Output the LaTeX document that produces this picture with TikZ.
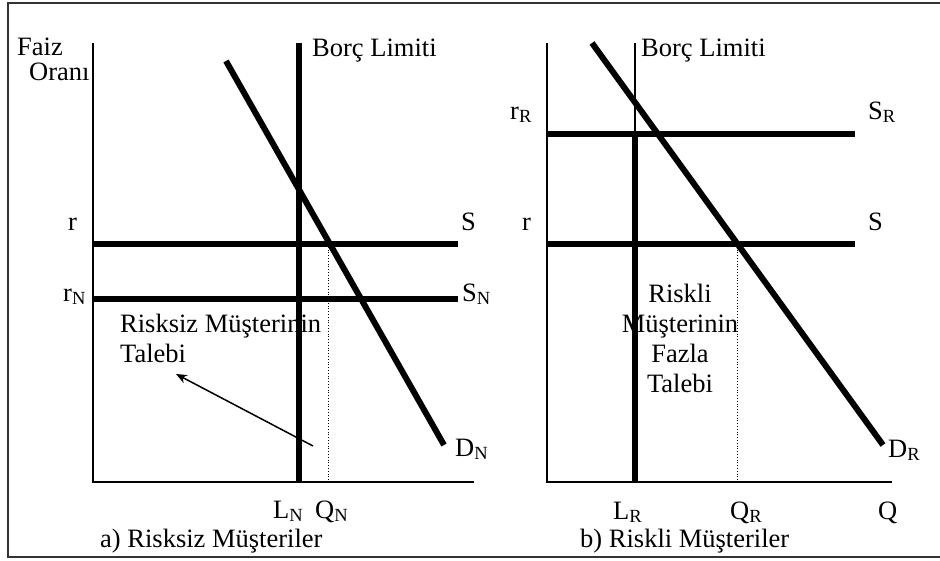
\documentclass[tikz,border=0pt]{standalone}
\usepackage{fontspec}
\setmainfont{Liberation Serif}
\usepackage{tikz}
\usetikzlibrary{arrows.meta}

\begin{document}
\begin{tikzpicture}[x=1pt,y=-1pt,
  axis/.style={line width=2pt},
  curve/.style={line width=6pt},
  guide/.style={dotted,line width=0.8pt},
  lbl/.style={anchor=base west,inner sep=0pt},
  every node/.style={font=\fontsize{26.5}{30}\selectfont}
]
\useasboundingbox (0,0) rectangle (940,560);
\draw[line width=1.5pt,black!80] (940,3) -| (8,557) -- (940,557);

% a) Risksiz
\coordinate (oa) at (93,482);
\coordinate (ya) at (93,43);
\coordinate (xa) at (474,482);
\draw[axis] (ya) -- (oa) -- (xa);
\coordinate (la) at (299,43);
\coordinate (lb) at (299,482);
\draw[curve] (la) -- (lb);
\coordinate (ra) at (93,244);
\coordinate (rb) at (458,244);
\draw[curve] (ra) -- (rb);
\coordinate (na) at (93,299);
\coordinate (nb) at (458,299);
\draw[curve] (na) -- (nb);
\coordinate (da) at (226,61);
\coordinate (db) at (444,445);
\draw[curve] (da) -- (db);
\coordinate (qa) at (328,244);
\coordinate (qb) at (328,482);
\draw[guide] (qa) -- (qb);

\node[lbl] (faiz) at (17,55) {Faiz};
\node[lbl] (oran) at (29,80) {Oranı};
\node[lbl] (borcA) at (312,56) {Borç Limiti};
\node[lbl] (rA) at (68,230) {r};
\node[lbl] (sA) at (461,230) {S};
\node[lbl] (rN) at (63,301) {r\textsubscript{N}};
\node[lbl] (sN) at (462,301) {S\textsubscript{N}};
\node[lbl] (dN) at (455,456) {D\textsubscript{N}};
\node[lbl] (talepA) at (120,332) {Risksiz Müşterinin};
\node[lbl] (talebi) at (120,362) {Talebi};
\node[lbl] (lN) at (273,518) {L\textsubscript{N}};
\node[lbl] (qN) at (315,518) {Q\textsubscript{N}};
\node[lbl] (capA) at (100,547) {a) Risksiz Müşteriler};

\coordinate (okA) at (313,446);
\coordinate (okB) at (176,374);
\draw[-{Stealth[length=11pt,width=9pt]},line width=1.5pt] (okA) -- (okB);

% b) Riskli
\coordinate (ob) at (547,482);
\coordinate (yb) at (547,43);
\coordinate (xb) at (892,482);
\draw[axis] (yb) -- (ob) -- (xb);
\coordinate (lc) at (635,43);
\coordinate (ld) at (635,134);
\coordinate (le) at (635,482);
\draw[line width=1.5pt] (lc) -- (ld);
\draw[curve] (ld) -- (le);
\coordinate (rc) at (547,134);
\coordinate (rd) at (855,134);
\draw[curve] (rc) -- (rd);
\coordinate (re) at (547,244);
\coordinate (rf) at (855,244);
\draw[curve] (re) -- (rf);
\coordinate (dc) at (592,43);
\coordinate (dd) at (883,445);
\draw[curve] (dc) -- (dd);
\coordinate (qc) at (737,244);
\coordinate (qd) at (737,482);
\draw[guide] (qc) -- (qd);

\node[lbl] (borcB) at (641,56) {Borç Limiti};
\node[lbl] (rR) at (510,119) {r\textsubscript{R}};
\node[lbl] (sR) at (868,119) {S\textsubscript{R}};
\node[lbl] (rB) at (522,230) {r};
\node[lbl] (sB) at (868,230) {S};
\node[lbl] (dR) at (888,457) {D\textsubscript{R}};
\node[align=center,inner sep=0pt,anchor=base] (talepB) at (680,392)
  {Riskli\\Müşterinin\\Fazla\\Talebi};
\node[lbl] (lR) at (613,519) {L\textsubscript{R}};
\node[lbl] (qR) at (730,519) {Q\textsubscript{R}};
\node[lbl] (qQ) at (878,519) {Q};
\node[lbl] (capB) at (580,547) {b) Riskli Müşteriler};
\end{tikzpicture}
\end{document}
